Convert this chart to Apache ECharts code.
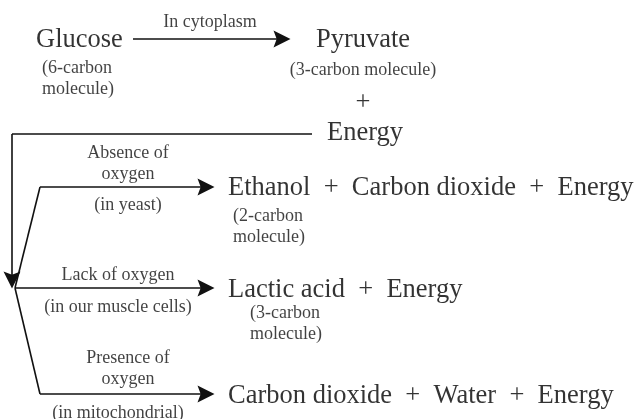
<!DOCTYPE html>
<html>
<head>
<meta charset="utf-8">
<script src="https://cdn.jsdelivr.net/npm/echarts@6/dist/echarts.min.js"></script>
<style>
  html, body { margin: 0; padding: 0; background: #fff; }
  #main { width: 638px; height: 419px; }
</style>
</head>
<body>
<div id="main"></div>
<script>
// words of the diagram (double spaces give the wider gap round a plus sign)
var plus = '  +  ';
var mainTerms = ['Energy', 'Glucose', 'Pyruvate', '+', 'Energy',
    'Ethanol' + plus + 'Carbon dioxide' + plus + 'Energy',
    'Lactic acid' + plus + 'Energy',
    'Carbon dioxide' + plus + 'Water' + plus + 'Energy'];
var mainPos = [[78, -8, 'right'], [36, 40, 'left'], [363, 40, 'center'], [363, 103, 'center'], [327, 133, 'left'],
    [228, 188, 'left'], [228, 290, 'left'], [228, 396, 'left']];

var notes = ['In cytoplasm', '(6-carbon\nmolecule)', '(3-carbon molecule)',
    'Absence of\noxygen', '(in yeast)', '(2-carbon\nmolecule)',
    'Lack of oxygen', '(in our muscle cells)', '(3-carbon\nmolecule)',
    'Presence of\noxygen', '(in mitochondrial)'];
var notePos = [[210, 22, 'center'], [42, 79, 'left'], [363, 70, 'center'],
    [128, 164, 'center'], [128, 205, 'center'], [233, 227, 'left'],
    [118, 275, 'center'], [118, 307, 'center'], [250, 324, 'left'],
    [128, 369, 'center'], [118, 413, 'center']];

// connector segments [x1, y1, x2, y2, arrow]
var segments = [
    [133, 39, 282, 39, 1],
    [312, 134, 12, 134, 0],
    [12, 134, 12, 280, 1],
    [15, 288, 40, 187, 0],
    [40, 187, 206, 187, 1],
    [15, 288, 206, 288, 1],
    [15, 288, 40, 394, 0],
    [40, 394, 206, 394, 1]
];

var myChart = echarts.init(document.getElementById('main'));

var serif = 'Liberation Serif';

function textData(texts, pos) {
    return texts.map(function (t, i) {
        return { name: t, value: [pos[i][0], pos[i][1]], label: { align: pos[i][2] } };
    });
}

var arrowHead = 'path://M0,0 L4,16 L0,13 L-4,16 Z';

option = {
    animation: false,
    backgroundColor: '#fff',
    textStyle: { fontFamily: serif },
    grid: { left: 0, right: 0, top: 0, bottom: 0 },
    xAxis: { type: 'value', min: 0, max: 638, show: false },
    yAxis: { type: 'value', min: 0, max: 419, inverse: true, show: false },
    series: [
        {
            type: 'lines',
            coordinateSystem: 'cartesian2d',
            silent: true,
            lineStyle: { color: '#111', width: 1.6, opacity: 1 },
            data: segments.map(function (s) {
                return {
                    coords: [[s[0], s[1]], [s[2], s[3]]],
                    symbol: ['none', s[4] ? arrowHead : 'none'],
                    symbolSize: [9, 17]
                };
            })
        },
        {
            type: 'scatter',
            symbolSize: 0,
            silent: true,
            label: {
                show: true, position: 'inside', formatter: '{b}',
                fontFamily: serif, fontSize: 26.5, color: '#000'
            },
            data: textData(mainTerms, mainPos)
        },
        {
            type: 'scatter',
            symbolSize: 0,
            silent: true,
            label: {
                show: true, position: 'inside', formatter: '{b}',
                fontFamily: serif, fontSize: 18, lineHeight: 21, color: '#111'
            },
            data: textData(notes, notePos)
        }
    ]
};

myChart.setOption(option);
</script>
</body>
</html>
